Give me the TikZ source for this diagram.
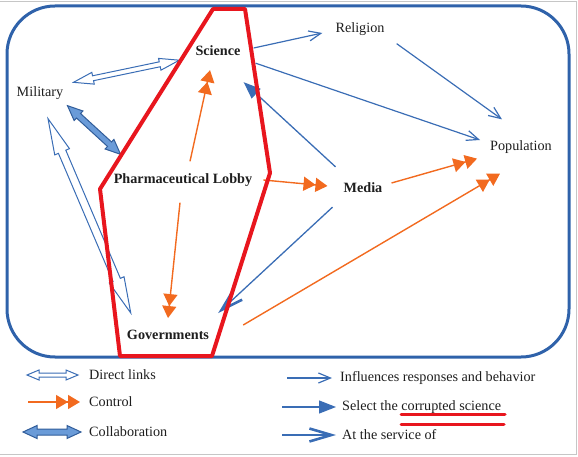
\documentclass[tikz,border=0pt]{standalone}
\usepackage{fontspec}
\setmainfont{Liberation Serif}
\usetikzlibrary{arrows.meta,calc}
\definecolor{linkblue}{HTML}{3A6DB5}
\definecolor{frameblue}{HTML}{2F62AA}
\definecolor{collabfill}{HTML}{6A9BD8}
\definecolor{ctrlorange}{HTML}{F26A1F}
\definecolor{markred}{HTML}{E8161E}
\definecolor{textdark}{HTML}{1E1E1E}
% block arrow with a head at both ends: [style]{from}{to}{head length}{head half width}{shaft half width}
\newcommand\twohead[6][]{%
    \draw[#1] (#2)
        -- ($(#2)!#4!(#3)!#5!90:(#3)$) -- ($(#2)!#4!(#3)!#6!90:(#3)$)
        -- ($(#3)!#4!(#2)!#6!-90:(#2)$) -- ($(#3)!#4!(#2)!#5!-90:(#2)$)
        -- (#3)
        -- ($(#3)!#4!(#2)!#5!90:(#2)$) -- ($(#3)!#4!(#2)!#6!90:(#2)$)
        -- ($(#2)!#4!(#3)!#6!-90:(#3)$) -- ($(#2)!#4!(#3)!#5!-90:(#3)$)
        -- cycle;}
\begin{document}
\begin{tikzpicture}[x=1pt,y=-1pt,
    every node/.style={font=\fontsize{14.2}{16}\selectfont,text=textdark,inner sep=2pt},
    hub/.style={font=\fontsize{14.2}{16}\selectfont\bfseries},
    direct/.style={draw=linkblue,fill=white,line width=1pt},
    collab/.style={draw=linkblue!85!black,fill=collabfill,line width=1pt},
    influence/.style={linkblue,line width=1.2pt,-{Straight Barb[length=12pt,width=10pt]}},
    control/.style={ctrlorange,line width=1.4pt,-{Triangle[length=12pt,width=14pt]Triangle[length=12pt,width=14pt]}},
    select/.style={linkblue,line width=1.3pt,-{Triangle[length=17pt,width=13pt]}},
    service/.style={linkblue,line width=1.3pt,-{Straight Barb[length=22pt,width=13pt,line width=2.6pt]}}]
    \useasboundingbox (0,0) rectangle (578,457);
    \draw[gray!45] (0,1) -- (576,1) -- (576,454) -- (0,454);
    \draw[frameblue,line width=3pt,rounded corners=48pt] (7,6) rectangle (569,357);

    \node[hub] (sci) at (218,51) {Science};
    \node (rel) at (360,29) {Religion};
    \node (mil) at (40,93) {Military};
    \node (pop) at (521,147) {Population};
    \node[hub] (pharm) at (183,180) {Pharmaceutical Lobby};
    \node[hub] (media) at (363,188) {Media};
    \node[hub] (gov) at (168,335) {Governments};

    \twohead[direct]{[shift={(8,-2)}]mil.north east}{[shift={(-14,2)}]sci.south west}{20pt}{6pt}{2.5pt}
    \twohead[direct]{[shift={(8,17)}]mil.south}{[shift={(6,-15)}]gov.north west}{36pt}{8pt}{4pt}
    \twohead[collab]{[shift={(2,4)}]mil.south east}{[shift={(9,-17)}]pharm.north west}{15pt}{6.5pt}{3pt}

    \draw[influence] ([shift={(11,-3)}]sci.east) -- ([shift={(-11,4)}]rel.west);
    \draw[influence] ([shift={(13,5)}]sci.south east) -- ([shift={(-8,-7)}]pop.west);
    \draw[influence] ([shift={(10,6)}]rel.south east) -- ([shift={(-19,-19)}]pop.north);
    \draw[select] ([shift={(-6,-14)}]media.north west) -- ([shift={(1,24)}]sci.south east);
    \draw[service] ([shift={(-9,12)}]media.south west) -- ([shift={(7,-15)}]gov.north east);

    \draw[control] ([shift={(7,-10)}]pharm.north) -- ([shift={(-8,12)}]sci.south);
    \draw[control] ([shift={(9,0)}]pharm.east) -- ([shift={(-14,-2)}]media.west);
    \draw[control] ([shift={(-3,14)}]pharm.south) -- ([shift={(0,-10)}]gov.north);
    \draw[control] ([shift={(7,-5)}]media.east) -- ([shift={(-11,3)}]pop.south west);
    \draw[control] ([shift={(32,-10)}]gov.east) -- ([shift={(-21,18)}]pop.south);

    % legend
    \node[anchor=west] (lgdir) at (87,375) {Direct links};
    \node[anchor=west] (lgctl) at (87,402) {Control};
    \node[anchor=west] (lgcol) at (87,432) {Collaboration};
    \node[anchor=west] (lginf) at (338,378) {Influences responses and behavior};
    \node[anchor=west] (lgsel) at (340,407) {Select the corrupted science};
    \node[anchor=west] (lgsrv) at (340,435) {At the service of};
    \twohead[direct]{[xshift=-60pt]lgdir.west}{[xshift=-9pt]lgdir.west}{12pt}{5pt}{2pt}
    \draw[control] ([xshift=-59pt]lgctl.west) -- ([xshift=-7pt]lgctl.west);
    \twohead[collab]{[xshift=-64pt]lgcol.west}{[xshift=-6pt]lgcol.west}{14pt}{6.5pt}{3pt}
    \draw[influence] ([xshift=-51pt]lginf.west) -- ([xshift=-6pt]lginf.west);
    \draw[select] ([xshift=-58pt]lgsel.west) -- ([xshift=-4pt]lgsel.west);
    \draw[service] ([xshift=-58pt]lgsrv.west) -- ([xshift=-4pt]lgsrv.west);

    % red marks
    \draw[markred,line width=4pt,line join=round] (213,9) -- (245,9) -- (270,173) -- (212,356) -- (120,356) -- (100,189) -- cycle;
    \draw[markred,line width=3pt,line cap=round] (401,414) -- (505,414);
    \draw[markred,line width=3pt,line cap=round] (401,424) -- (504,424);
\end{tikzpicture}
\end{document}
